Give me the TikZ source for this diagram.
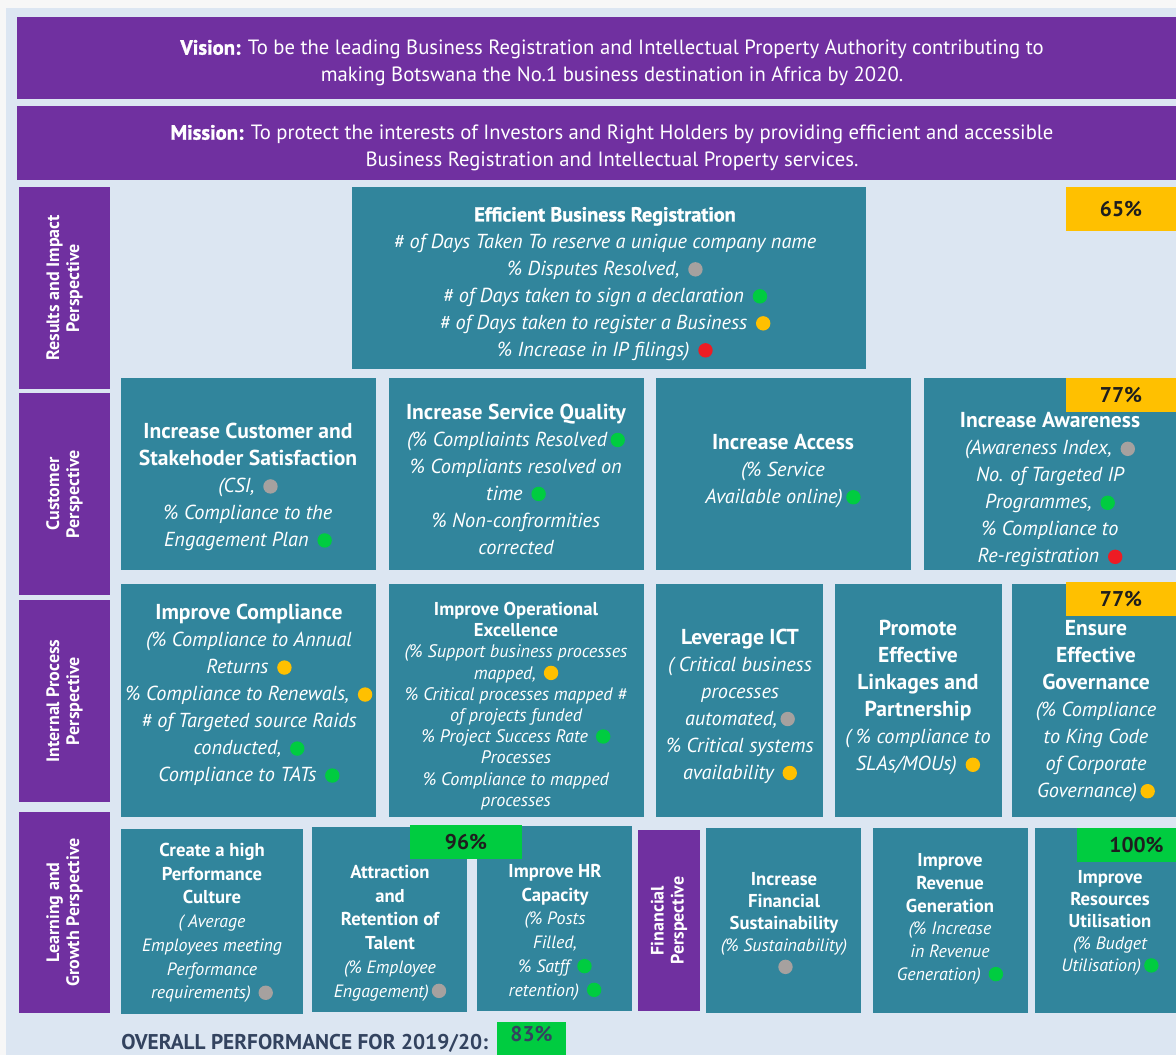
\documentclass[tikz,border=0pt]{standalone}
\usepackage{fontspec}
\setmainfont{PT Sans}
\newfontfamily\heavyfont{PT Sans}[UprightFont={* Bold}, UprightFeatures={FakeBold=1.4}]
\usetikzlibrary{fit}

\definecolor{pagebg}{HTML}{F7F7F7}
\definecolor{panelbg}{HTML}{DCE6F2}
\definecolor{vpurple}{HTML}{7030A0}
\definecolor{kteal}{HTML}{31859C}
\definecolor{kamber}{HTML}{FFC000}
\definecolor{kgreen}{HTML}{00CC40}
\definecolor{kgrey}{HTML}{A6A19F}
\definecolor{kred}{HTML}{ED1C24}
\definecolor{knavy}{HTML}{33435F}
\definecolor{kink}{HTML}{1E1E1E}

% status dot placed after a measure
\newcommand\kpi[1]{\,\tikz[baseline=-4.6pt]\fill[#1] (0,0) circle (5.4pt);}

\tikzset{
  tile/.style={fill=kteal, inner sep=0pt, outer sep=0pt},
  band/.style={fill=vpurple, inner sep=0pt, outer sep=0pt},
  badge/.style={inner sep=0pt, outer sep=0pt},
  badgetext/.style={inner sep=0pt, text=kink, font=\fontsize{16}{18}\selectfont\bfseries},
  words/.style={text=white, align=center, inner sep=0pt},
  bigw/.style={words, font=\fontsize{15.2}{20.25}\selectfont\itshape},
  smallw/.style={words, font=\fontsize{13.6}{16}\selectfont\itshape},
  sidelabel/.style={text=white, align=center, inner sep=0pt, rotate=90,
    font=\fontsize{13.5}{15}\selectfont\bfseries},
}
\newcommand\tile[5]{\node[tile, fit={(#2,#3) (#4,#5)}] (#1) {};}
\newcommand\band[5]{\node[band, fit={(#2,#3) (#4,#5)}] (#1) {};}
\newcommand\ttl[1]{{\fontsize{16.2}{20.25}\selectfont\upshape\bfseries #1}}
\newcommand\sttl[1]{{\fontsize{14}{16}\selectfont\upshape\bfseries #1}}

\begin{document}
\begin{tikzpicture}[x=0.75pt, y=-0.75pt]
\useasboundingbox (0,0) rectangle (1176,1055);
\fill[pagebg] (0,0) rectangle (1176,1055);
\fill[panelbg] (6,8) rectangle (1176,1055);

% vision and mission banners
\band{vision}{17}{17}{1176}{99}
\band{mission}{17}{106}{1176}{180}
\node[words, font=\fontsize{15.5}{20.25}\selectfont] (vision-text) at (612,63)
  {{\heavyfont Vision:} To be the leading Business Registration and Intellectual Property Authority contributing to\\
   making Botswana the No.1 business destination in Africa by 2020.};
\node[words, font=\fontsize{15.5}{20.25}\selectfont] (mission-text) at (612,148)
  {{\heavyfont Mission:} To protect the interests of Investors and Right Holders by providing efficient and accessible\\
   Business Registration and Intellectual Property services.};

% perspective labels
\band{lab-results}{19}{187}{110}{389}
\band{lab-customer}{19}{393}{110}{595}
\band{lab-internal}{19}{600}{110}{802}
\band{lab-learning}{19}{812}{110}{1013}
\band{lab-financial}{638}{830}{700}{1011}
\node[sidelabel] (lab-results-t) at (lab-results.center) {Results and Impact\\Perspective};
\node[sidelabel] (lab-customer-t) at (lab-customer.center) {Customer\\Perspective};
\node[sidelabel] (lab-internal-t) at (lab-internal.center) {Internal Process\\Perspective};
\node[sidelabel] (lab-learning-t) at (lab-learning.center) {Learning and\\Growth Perspective};
\node[sidelabel] (lab-financial-t) at (lab-financial.center) {Financial\\Perspective};

% results and impact
\tile{ebr}{352}{187}{866}{369}
\node[bigw] (ebr-t) at (605,284)
  {{\upshape\heavyfont Efficient Business Registration}\\
   \# of Days Taken To reserve a unique company name\\
   \% Disputes Resolved, \kpi{kgrey}\\
   \# of Days taken to sign a declaration \kpi{kgreen}\\
   \# of Days taken to register a Business \kpi{kamber}\\
   \% Increase in IP filings) \kpi{kred}};
\node[badge, fill=kamber, fit={(1066,187) (1176,231)}] (b65) {};
\node[badgetext] (b65-t) at (b65.center) {65\%};

% customer perspective
\tile{cus1}{121}{378}{376}{570}
\tile{cus2}{389}{378}{644}{570}
\tile{cus3}{656}{378}{911}{570}
\tile{cus4}{924}{378}{1176}{570}
\node[bigw] (cus1-t) at (248,487)
  {\ttl{Increase Customer and}\\ \ttl{Stakehoder Satisfaction}\\
   (CSI, \kpi{kgrey}\\ \% Compliance to the\\ Engagement Plan \kpi{kgreen}};
\node[bigw] (cus2-t) at (516,479)
  {\ttl{Increase Service Quality}\\
   (\% Compliaints Resolved\kpi{kgreen}\\ \% Compliants resolved on\\ time \kpi{kgreen}\\
   \% Non-confrormities\\ corrected};
\node[bigw] (cus3-t) at (783,471)
  {\ttl{Increase Access}\\ (\% Service\\ Available online)\kpi{kgreen}};
\node[bigw] (cus4-t) at (1050,490)
  {\ttl{Increase Awareness}\\
   (Awareness Index, \kpi{kgrey}\\ No. of Targeted IP\\ Programmes, \kpi{kgreen}\\
   \% Compliance to\\ Re-registration \kpi{kred}};
\node[badge, fill=kamber, fit={(1066,378) (1176,412)}] (b77a) {};
\node[badgetext] (b77a-t) at (b77a.center) {77\%};

% internal process perspective
\tile{int1}{121}{584}{376}{817}
\tile{int2}{389}{584}{644}{817}
\tile{int3}{656}{584}{823}{817}
\tile{int4}{835}{584}{1002}{817}
\tile{int5}{1012}{584}{1176}{817}
\node[bigw] (int1-t) at (249,695)
  {\ttl{Improve Compliance}\\
   (\% Compliance to Annual\\ Returns \kpi{kamber}\\ \% Compliance to Renewals, \kpi{kamber}\\
   \# of Targeted source Raids\\ conducted, \kpi{kgreen}\\ Compliance to TATs \kpi{kgreen}};
\node[smallw, font=\fontsize{13.6}{15.9}\selectfont\itshape] (int2-t) at (516,706)
  {\sttl{Improve Operational}\\ \sttl{Excellence}\\
   (\% Support business processes\\ mapped, \kpi{kamber}\\
   \% Critical processes mapped \#\\ of projects funded\\
   \% Project Success Rate \kpi{kgreen}\\ Processes\\
   \% Compliance to mapped\\ processes};
\node[bigw] (int3-t) at (740,706)
  {\ttl{Leverage ICT}\\ ( Critical business\\ processes\\ automated,\kpi{kgrey}\\
   \% Critical systems\\ availability \kpi{kamber}};
\node[bigw] (int4-t) at (918,698)
  {\ttl{Promote}\\ \ttl{Effective}\\ \ttl{Linkages and}\\ \ttl{Partnership}\\
   ( \% compliance to\\ SLAs/MOUs) \kpi{kamber}};
\node[bigw] (int5-t) at (1096,711)
  {\ttl{Ensure}\\ \ttl{Effective}\\ \ttl{Governance}\\
   (\% Compliance\\ to King Code\\ of Corporate\\ Governance)\kpi{kamber}};
\node[badge, fill=kamber, fit={(1066,582) (1176,616)}] (b77b) {};
\node[badgetext] (b77b-t) at (b77b.center) {77\%};

% learning and growth perspective
\tile{lrn1}{121}{829}{303}{1014}
\tile{lrn2}{312}{827}{467}{1012}
\tile{lrn3}{477}{826}{632}{1011}
\node[smallw, font=\fontsize{13.4}{17.8}\selectfont\itshape] (lrn1-t) at (212,923)
  {\sttl{Create a high}\\ \sttl{Performance}\\ \sttl{Culture}\\
   ( Average\\ Employees meeting\\ Performance\\ requirements) \kpi{kgrey}};
\node[smallw, font=\fontsize{13.4}{17.8}\selectfont\itshape] (lrn2-t) at (390,933)
  {\sttl{Attraction}\\ \sttl{and}\\ \sttl{Retention of}\\ \sttl{Talent}\\
   (\% Employee\\ Engagement)\kpi{kgrey}};
\node[smallw, font=\fontsize{13.4}{17.8}\selectfont\itshape] (lrn3-t) at (555,932)
  {\sttl{Improve HR}\\ \sttl{Capacity}\\
   (\% Posts\\ Filled,\\ \% Satff \kpi{kgreen}\\ retention) \kpi{kgreen}};
\node[badge, fill=kgreen, fit={(410,825) (522,859)}] (b96) {};
\node[badgetext] (b96-t) at (b96.center) {96\%};

% financial perspective
\tile{fin1}{706}{828}{861}{1013}
\tile{fin2}{873}{828}{1028}{1013}
\tile{fin3}{1035}{828}{1176}{1013}
\node[smallw, font=\fontsize{13.4}{16.5}\selectfont\itshape] (fin1-t) at (784,923)
  {\sttl{Increase}\\ \sttl{Financial}\\ \sttl{Sustainability}\\
   (\% Sustainability)\\ \kpi{kgrey}};
\node[smallw, font=\fontsize{13.4}{17}\selectfont\itshape] (fin2-t) at (950,919)
  {\sttl{Improve}\\ \sttl{Revenue}\\ \sttl{Generation}\\
   (\% Increase\\ in Revenue\\ Generation) \kpi{kgreen}};
\node[smallw, font=\fontsize{13.4}{16.5}\selectfont\itshape] (fin3-t) at (1110,923)
  {\sttl{Improve}\\ \sttl{Resources}\\ \sttl{Utilisation}\\
   (\% Budget\\ Utilisation)\kpi{kgreen}};
\node[badge, fill=kgreen, fit={(1077,828) (1176,862)}] (b100) {};
\node[badgetext] (b100-t) at ([xshift=7.5pt]b100.center) {100\%};

% overall score
\node[anchor=west, inner sep=0pt, text=knavy, font=\fontsize{16}{18}\selectfont\bfseries]
  (overall) at (121,1043) {OVERALL PERFORMANCE FOR 2019/20:};
\node[badge, fill=kgreen, fit={(497,1022) (566,1055)}] (b83) {};
\node[badgetext, text=knavy] (b83-t) at ([yshift=3pt]b83.center) {83\%};
\end{tikzpicture}
\end{document}
